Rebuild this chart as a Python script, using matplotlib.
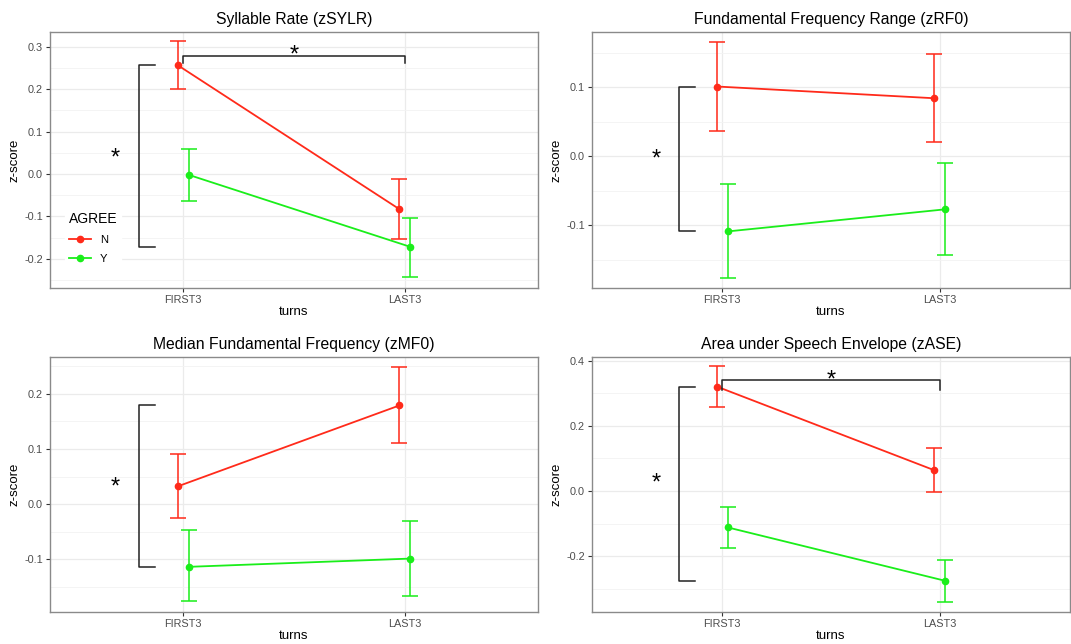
import matplotlib
matplotlib.use("Agg")
import matplotlib.pyplot as plt
from matplotlib.ticker import MultipleLocator

plt.rcParams['font.family'] = ['Liberation Sans', 'DejaVu Sans']
plt.rcParams['axes.unicode_minus'] = False

turns = ["FIRST3", "LAST3"]
groups = ["N", "Y"]
colors = {"N": "#FF2A1A", "Y": "#1AEE1A"}

titles = ["Syllable Rate (zSYLR)", "Fundamental Frequency Range (zRF0)",
          "Median Fundamental Frequency (zMF0)", "Area under Speech Envelope (zASE)"]

# mean, lower, upper per panel, group
sylr_N = [0.257, -0.083]; sylr_N_lo = [0.200, -0.153]; sylr_N_hi = [0.313, -0.012]
sylr_Y = [-0.002, -0.172]; sylr_Y_lo = [-0.064, -0.242]; sylr_Y_hi = [0.060, -0.103]

rf0_N = [0.101, 0.084]; rf0_N_lo = [0.036, 0.021]; rf0_N_hi = [0.165, 0.148]
rf0_Y = [-0.109, -0.077]; rf0_Y_lo = [-0.177, -0.143]; rf0_Y_hi = [-0.041, -0.010]

mf0_N = [0.032, 0.179]; mf0_N_lo = [-0.026, 0.110]; mf0_N_hi = [0.090, 0.248]
mf0_Y = [-0.114, -0.099]; mf0_Y_lo = [-0.176, -0.167]; mf0_Y_hi = [-0.048, -0.030]

ase_N = [0.321, 0.064]; ase_N_lo = [0.258, -0.002]; ase_N_hi = [0.384, 0.131]
ase_Y = [-0.112, -0.276]; ase_Y_lo = [-0.175, -0.340]; ase_Y_hi = [-0.048, -0.212]

panels = [
    dict(N=(sylr_N, sylr_N_lo, sylr_N_hi), Y=(sylr_Y, sylr_Y_lo, sylr_Y_hi),
         ylim=(-0.269, 0.335), major=0.1, vb=(0.257, -0.172), vstar=0.05, hb=(0.279, 0.262)),
    dict(N=(rf0_N, rf0_N_lo, rf0_N_hi), Y=(rf0_Y, rf0_Y_lo, rf0_Y_hi),
         ylim=(-0.191, 0.18), major=0.1, vb=(0.101, -0.109), vstar=0.003, hb=None),
    dict(N=(mf0_N, mf0_N_lo, mf0_N_hi), Y=(mf0_Y, mf0_Y_lo, mf0_Y_hi),
         ylim=(-0.196, 0.267), major=0.1, vb=(0.179, -0.114), vstar=0.04, hb=None),
    dict(N=(ase_N, ase_N_lo, ase_N_hi), Y=(ase_Y, ase_Y_lo, ase_Y_hi),
         ylim=(-0.372, 0.412), major=0.2, vb=(0.321, -0.276), vstar=0.04, hb=(0.340, 0.312)),
]

fig = plt.figure(figsize=(10.71, 6.44), dpi=100)
boxes = [(50, 32, 538, 288), (592, 32, 1070, 288), (50, 357, 538, 612), (592, 357, 1070, 612)]
W, H = 1071, 644
dodge = {"N": -0.025, "Y": 0.025}

for i, (p, b) in enumerate(zip(panels, boxes)):
    l, t, r, bt = b
    ax = fig.add_axes([l / W, 1 - bt / H, (r - l) / W, (bt - t) / H])
    ax.set_xlim(0.4, 2.6)
    ax.set_ylim(*p["ylim"])
    ax.yaxis.set_major_locator(MultipleLocator(p["major"]))
    ax.yaxis.set_minor_locator(MultipleLocator(p["major"] / 2))
    ax.set_xticks([1, 2])
    ax.set_xticklabels(turns)
    ax.grid(True, which="major", color="#EBEBEB", lw=0.9)
    ax.grid(True, which="minor", axis="y", color="#F3F3F3", lw=0.6)
    ax.set_axisbelow(True)
    for s in ax.spines.values():
        s.set_color("#8A8A8A")
        s.set_linewidth(1.0)
    ax.tick_params(axis="both", which="major", labelsize=7.8, labelcolor="#4D4D4D",
                   color="#333333", length=3, width=0.8, pad=2)
    ax.tick_params(axis="y", which="minor", length=0)
    ax.set_title(titles[i], fontsize=11.3, pad=6)
    ax.set_ylabel("z-score", fontsize=9.5, labelpad=3)
    ax.set_xlabel("turns", fontsize=9.5, labelpad=1)

    for g in groups:
        m, lo, hi = p[g]
        xs = [x + 1 + dodge[g] for x in range(len(turns))]
        c = colors[g]
        ax.errorbar(xs, m, yerr=[[mm - ll for mm, ll in zip(m, lo)], [hh - mm for mm, hh in zip(m, hi)]],
                    fmt="none", ecolor=c, elinewidth=1.3, capsize=6, capthick=1.3, alpha=0.85, zorder=3)
        ax.plot(xs, m, color=c, lw=1.3, marker="o", ms=4.5, mfc=c, mec=c, label=g, zorder=4)

    # vertical bracket
    top, bot = p["vb"]
    ax.plot([0.875, 0.8, 0.8, 0.875], [top, top, bot, bot], color="#222222", lw=1.1,
            clip_on=False, zorder=5)
    ax.annotate("*", xy=(0.69, p["vstar"]), xytext=(1, -4), textcoords="offset points",
                fontsize=17, ha="center", va="center", color="black")
    if p["hb"] is not None:
        hy, ht = p["hb"]
        ax.plot([1.0, 1.0, 2.0, 2.0], [ht, hy, hy, ht], color="#222222", lw=1.1, zorder=5)
        ax.annotate("*", xy=(1.5, hy), xytext=(0, 0), textcoords="offset points",
                    fontsize=17, ha="center", va="center", color="black")

    if i == 0:
        leg = ax.legend(title="AGREE", loc="lower left", bbox_to_anchor=(0.02, 0.06),
                        frameon=True, fontsize=8, title_fontsize=10, handlelength=2.0,
                        borderpad=0.3, labelspacing=0.8)
        leg.get_frame().set_edgecolor("white")
        leg.get_frame().set_facecolor("white")
        leg.get_frame().set_alpha(1)
        leg._legend_box.align = "left"

fig.savefig("out.png", dpi=100)
